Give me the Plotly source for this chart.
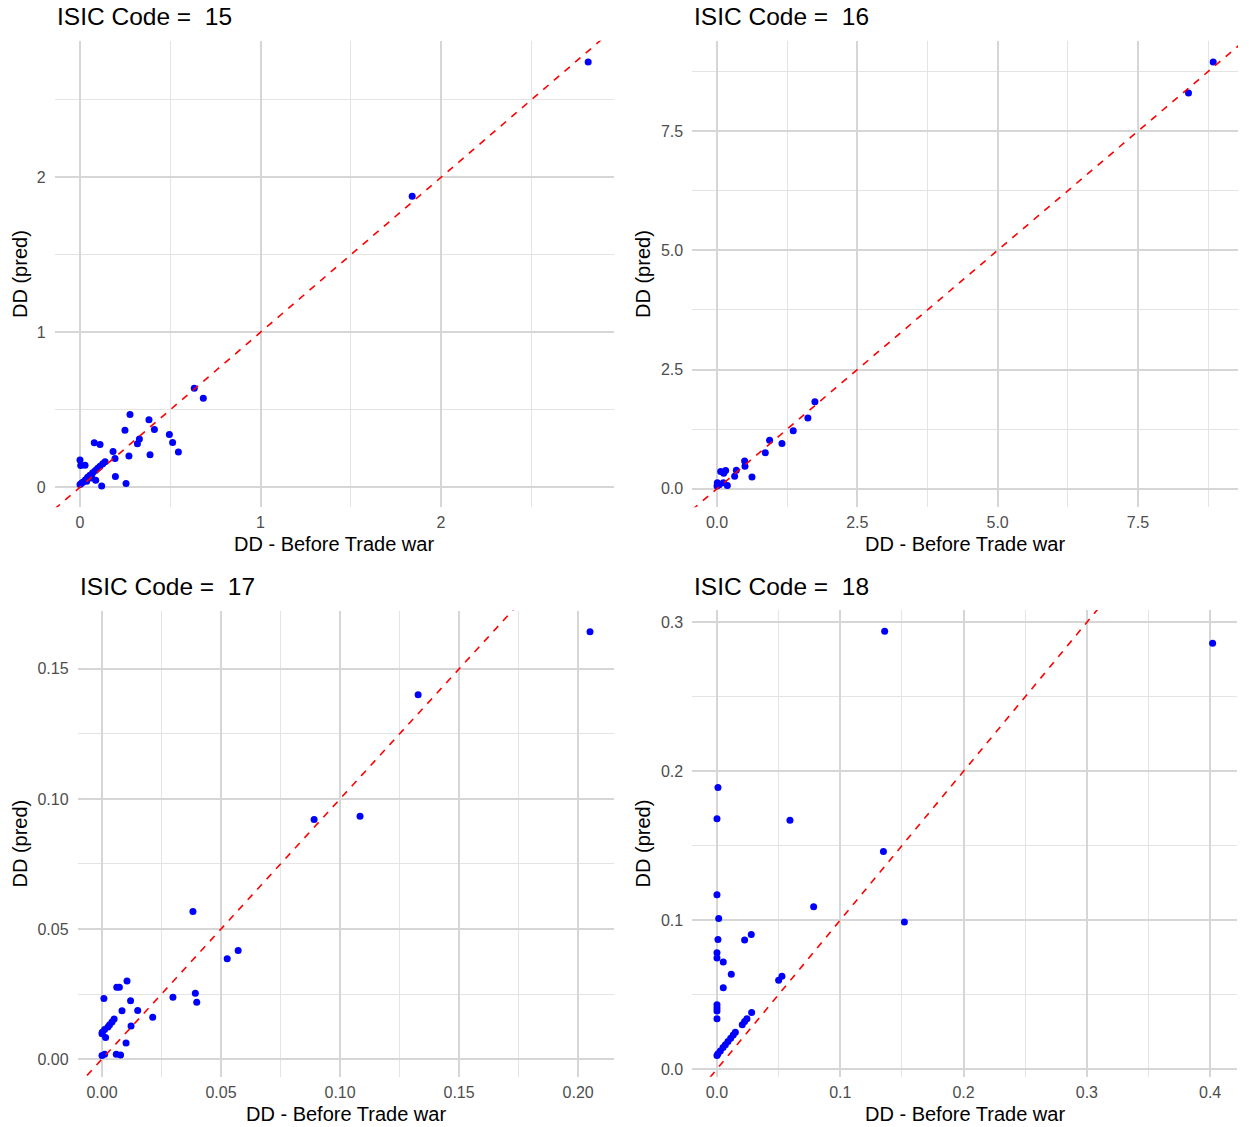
import plotly.graph_objects as go

# ---------------- data ----------------
codes = ["15", "16", "17", "18"]

p15_x = [0.633, 0.683, 0.277, 0.382, 0.412, 0.249, 0.495, 0.513, 0.545, 0.329, 0.318, 0.079, 0.111,
         0.183, 0.194, 0.271, 0.388, 0.000, 0.004, 0.028, 0.139, 0.196, 0.255, 0.120, 0.087, 0.000,
         0.015, 0.029, 0.042, 0.055, 0.070, 0.085, 0.098, 0.111, 0.126, 0.065, 0.037, 0.008, 1.840, 2.815]
p15_y = [0.639, 0.574, 0.470, 0.436, 0.373, 0.367, 0.341, 0.289, 0.227, 0.311, 0.280, 0.287, 0.276,
         0.231, 0.186, 0.201, 0.209, 0.175, 0.140, 0.142, 0.164, 0.069, 0.024, 0.008, 0.045, 0.017,
         0.032, 0.047, 0.065, 0.078, 0.093, 0.108, 0.123, 0.136, 0.151, 0.060, 0.039, 0.025, 1.877, 2.744]

p16_x = [1.358, 1.157, 0.937, 0.860, 0.492, 0.498, 0.344, 0.314, 0.623, 0.065, 0.154, 0.119, 0.006,
         0.000, 0.113, 0.184, 0.041, 1.744, 1.619, 8.400, 8.840]
p16_y = [1.215, 0.946, 1.017, 0.756, 0.579, 0.473, 0.388, 0.261, 0.247, 0.360, 0.381, 0.325, 0.127,
         0.057, 0.127, 0.070, 0.085, 1.822, 1.483, 8.300, 8.950]

p17_x = [0.0382, 0.0526, 0.0572, 0.0105, 0.0062, 0.0073, 0.0008, 0.0120, 0.0298, 0.0392, 0.0398,
         0.0084, 0.0150, 0.0213, 0.0051, 0.0042, 0.0032, 0.0025, 0.0011, 0.0001, 0.0000, 0.0015,
         0.0122, 0.0101, 0.0000, 0.0011, 0.0060, 0.0078, 0.0891, 0.1084, 0.1328, 0.2050]
p17_y = [0.0567, 0.0386, 0.0417, 0.0300, 0.0276, 0.0276, 0.0233, 0.0224, 0.0238, 0.0253, 0.0218,
         0.0186, 0.0187, 0.0161, 0.0154, 0.0142, 0.0132, 0.0123, 0.0114, 0.0103, 0.0097, 0.0083,
         0.0127, 0.0062, 0.0014, 0.0018, 0.0018, 0.0016, 0.0921, 0.0933, 0.1401, 0.1643]

p18_x = [0.0008, 0.0000, 0.0592, 0.0000, 0.0014, 0.0008, 0.0224, 0.0278, 0.0784, 0.0000, 0.0000,
         0.0051, 0.0116, 0.0051, 0.0500, 0.0527, 0.0000, 0.0000, 0.0000, 0.0000, 0.0281, 0.0243,
         0.0224, 0.0205, 0.0149, 0.0132, 0.0111, 0.0089, 0.0068, 0.0049, 0.0027, 0.0008, 0.0000,
         0.1360, 0.4020, 0.1350, 0.1520]
p18_y = [0.1890, 0.1680, 0.1670, 0.1170, 0.1010, 0.0870, 0.0867, 0.0903, 0.1090, 0.0780, 0.0746,
         0.0719, 0.0636, 0.0546, 0.0596, 0.0622, 0.0431, 0.0409, 0.0390, 0.0337, 0.0380, 0.0337,
         0.0319, 0.0297, 0.0247, 0.0229, 0.0207, 0.0184, 0.0162, 0.0144, 0.0121, 0.0103, 0.0090,
         0.2940, 0.2860, 0.1460, 0.0987]

x_title = "DD - Before Trade war"
y_title = "DD (pred)"

# ---------------- layout helpers ----------------
W, H = 1249, 1127
FONT = "Liberation Sans, Arial, Helvetica, sans-serif"

# panel pixel boxes in window coordinates: (left, right, top, bottom)
boxes = [
    (54.6, 613.6, 40.8, 507.2),
    (692.2, 1238.0, 40.8, 507.2),
    (77.6, 614.4, 610.5, 1076.6),
    (692.2, 1237.4, 610.0, 1076.8),
]
# (major dtick x, minor x, fmt x, major dtick y, minor y, fmt y)
ticks = [
    (1, 0.5, "d", 1, 0.5, "d"),
    (2.5, 1.25, ".1f", 2.5, 1.25, ".1f"),
    (0.05, 0.025, ".2f", 0.05, 0.025, ".2f"),
    (0.1, 0.05, ".1f", 0.1, 0.05, ".1f"),
]
data = [(p15_x, p15_y), (p16_x, p16_y), (p17_x, p17_y), (p18_x, p18_y)]


def expand(v):
    lo, hi = min(v), max(v)
    s = hi - lo
    return [lo - 0.05 * s, hi + 0.05 * s]


def fx(px):
    return px / W


def fy(px):
    return 1 - px / H


MAJ_COL, MIN_COL = "#D6D6D6", "#E4E4E4"

fig = go.Figure()
annotations = []
for i, ((xs, ys), box, tk, code) in enumerate(zip(data, boxes, ticks, codes)):
    n = "" if i == 0 else str(i + 1)
    xr, yr = expand(xs), expand(ys)
    left, right, top, bottom = box
    fig.add_trace(go.Scatter(x=xs, y=ys, mode="markers", xaxis="x" + n, yaxis="y" + n,
                             marker=dict(color="#0000FF", size=7, line=dict(width=0)),
                             showlegend=False, hoverinfo="x+y"))
    lo = min(xr[0], yr[0])
    hi = max(xr[1], yr[1])
    fig.add_trace(go.Scatter(x=[lo, hi], y=[lo, hi], mode="lines", xaxis="x" + n, yaxis="y" + n,
                             line=dict(color="#FF0000", width=1.6, dash="7px,7px"),
                             showlegend=False, hoverinfo="skip"))
    common = dict(showline=False, zeroline=False, ticks="", showgrid=True,
                  gridcolor=MAJ_COL, gridwidth=1.5,
                  tickfont=dict(family=FONT, size=16, color="#4D4D4D"))
    fig.layout["xaxis" + n] = dict(
        common, domain=[fx(left), fx(right)], range=xr, anchor="y" + n,
        tick0=0, dtick=tk[0], tickformat=tk[2], ticklabelstandoff=4,
        minor=dict(tick0=0, dtick=tk[1], showgrid=True, gridcolor=MIN_COL, gridwidth=1.1))
    fig.layout["yaxis" + n] = dict(
        common, domain=[fy(bottom), fy(top)], range=yr, anchor="x" + n,
        tick0=0, dtick=tk[3], tickformat=tk[5], ticklabelstandoff=8,
        minor=dict(tick0=0, dtick=tk[4], showgrid=True, gridcolor=MIN_COL, gridwidth=1.1))
    # panel title
    annotations.append(dict(text="ISIC Code =\u00a0 " + code, xref="paper", yref="paper",
                            x=fx(left), y=fy(top - 24), xanchor="left", yanchor="middle",
                            showarrow=False, font=dict(family=FONT, size=24.5, color="#000000")))
    # x axis title
    annotations.append(dict(text=x_title, xref="paper", yref="paper",
                            x=fx((left + right) / 2), y=fy(bottom + 37),
                            xanchor="center", yanchor="middle", showarrow=False,
                            font=dict(family=FONT, size=20, color="#000000")))
    # y axis title
    annotations.append(dict(text=y_title, xref="paper", yref="paper",
                            x=fx(20 if i % 2 == 0 else 643), y=fy((top + bottom) / 2),
                            xanchor="center", yanchor="middle", textangle=-90, showarrow=False,
                            font=dict(family=FONT, size=20, color="#000000")))

fig.update_layout(width=W, height=H, margin=dict(l=0, r=0, t=0, b=0),
                  paper_bgcolor="white", plot_bgcolor="white",
                  annotations=annotations, showlegend=False)

fig.write_html("out.html", config={"displayModeBar": False},
               post_script="document.body.style.margin='0px';document.body.style.overflow='hidden';")
